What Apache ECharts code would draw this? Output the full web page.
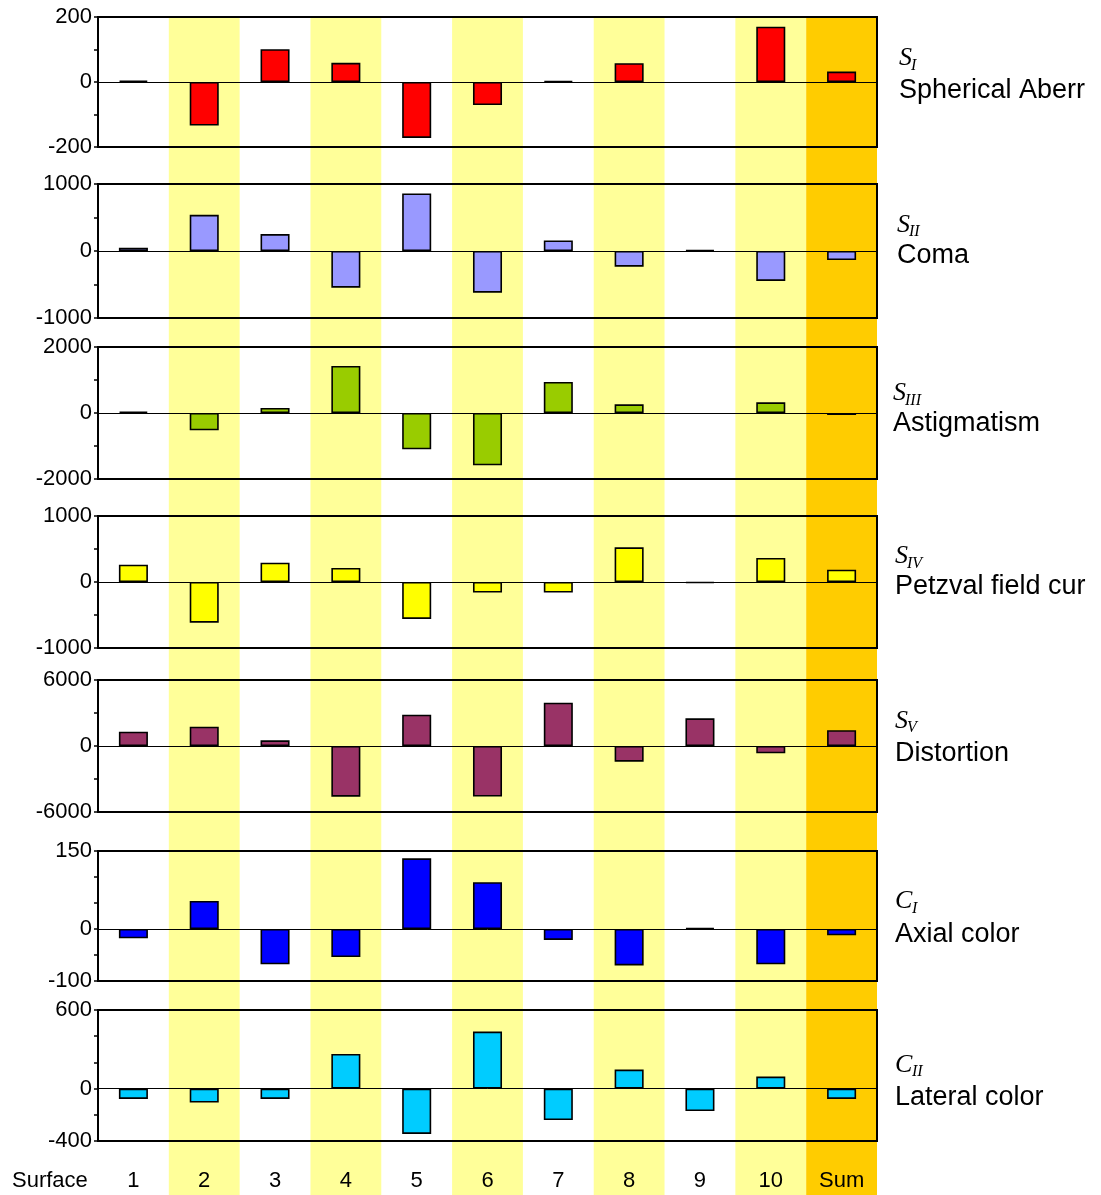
<!DOCTYPE html>
<html>
<head>
<meta charset="utf-8">
<script src="https://cdn.jsdelivr.net/npm/echarts@6/dist/echarts.min.js"></script>
<style>html,body{margin:0;padding:0;background:#fff;}#c{width:1101px;height:1195px;}</style>
</head>
<body>
<div id="c"></div>
<script>
const categories = ['1','2','3','4','5','6','7','8','9','10','Sum'];
const bandColors = [null,'#FFFF99',null,'#FFFF99',null,'#FFFF99',null,'#FFFF99',null,'#FFFF99','#FFCC00'];

const sI   = [4, -134, 101, 59, -172, -71, 3, 58, null, 170, 32];
const sII  = [50, 540, 253, -547, 860, -622, 158, -234, 15, -447, -134];
const sIII = [40, -525, 152, 1424, -1100, -1585, 940, 263, null, 323, -60];
const sIV  = [263, -616, 293, 212, -560, -160, -160, 525, -15, 364, 187];
const sV   = [1300, 1755, 515, -4605, 2850, -4600, 3940, -1425, 2520, -664, 1430];
const cI   = [-18, 54, -68, -54, 136, 90, -21, -70, 2, -68, -12];
const cII  = [-79, -107, -79, 264, -346, 435, -240, 145, -171, 92, -79];

const seriesData = [sI, sII, sIII, sIV, sV, cI, cII];
const barColors = ['#FF0000','#9999FF','#99CC00','#FFFF00','#993366','#0000FF','#00CCFF'];
const yMins = [-200, -1000, -2000, -1000, -6000, -100, -400];
const yMaxs = [200, 1000, 2000, 1000, 6000, 150, 600];
const yIntervals = [100, 500, 1000, 500, 3000, 50, 200];

const symLetters = ['S','S','S','S','S','C','C'];
const symSubs = ['I','II','III','IV','V','I','II'];
const descriptions = ['Spherical Aberr','Coma','Astigmatism','Petzval field cur','Distortion','Axial color','Lateral color'];
const xAxisName = 'Surface';

// layout (positions only)
const tops = [17, 184, 347, 516, 680, 851, 1010];
const heights = [130, 134, 132, 132, 132, 130, 131];
const labelX = [899, 897, 893, 895, 895, 895, 895];
const symY = [58.5, 225, 393.5, 556.5, 721, 901.5, 1065];
const descY = [91.5, 256, 424, 587.5, 754, 935.5, 1098.5];

const SANS = '"Liberation Sans", Arial, sans-serif';
const SERIF = '"Liberation Serif", "Times New Roman", serif';

const grid = [], xAxis = [], yAxis = [], series = [];
seriesData.forEach((d, i) => {
  grid.push({left: 98, right: 224, top: tops[i], height: heights[i], show: true,
    borderColor: '#000', borderWidth: 2, backgroundColor: 'transparent'});
  xAxis.push({gridIndex: i, type: 'category', data: categories,
    axisLine: {show: true, onZero: true, lineStyle: {color: '#000', width: 1}},
    axisTick: {show: false}, axisLabel: {show: false}, splitLine: {show: false}, z: 5});
  const mn = yMins[i], mx = yMaxs[i];
  yAxis.push({gridIndex: i, type: 'value', min: mn, max: mx, interval: yIntervals[i],
    axisLine: {show: true, lineStyle: {color: '#000', width: 2}},
    axisTick: {show: true, length: 4, lineStyle: {color: '#000', width: 1.5}},
    splitLine: {show: false}, z: 5,
    axisLabel: {margin: 6, fontSize: 22, color: '#000', fontFamily: SANS,
      formatter: v => (v === mn || v === mx || v === 0) ? String(v) : ''}});
  series.push({type: 'bar', xAxisIndex: i, yAxisIndex: i, data: d, barWidth: '41%',
    itemStyle: {color: barColors[i], borderColor: '#000', borderWidth: 1.6}, z: 3, silent: true});
});

// background bands
grid.push({left: 98, right: 224, top: 17, bottom: 0});
xAxis.push({gridIndex: 7, type: 'category', data: categories,
  axisLine: {show: false}, axisTick: {show: false}, splitLine: {show: false},
  axisLabel: {inside: true, margin: 3, fontSize: 22, color: '#000', fontFamily: SANS}});
yAxis.push({gridIndex: 7, type: 'value', min: 0, max: 1, show: false});
series.push({type: 'bar', xAxisIndex: 7, yAxisIndex: 7, barWidth: '100%', z: -1, silent: true,
  data: bandColors.map(c => c ? {value: 1, itemStyle: {color: c}} : '-')});

const graphic = [];
descriptions.forEach((t, i) => {
  const isC = symLetters[i] === 'C';
  graphic.push({type: 'text', left: labelX[i], top: symY[i] - 13, z: 10,
    style: {text: symLetters[i], font: 'italic 26px ' + SERIF, fill: '#000'}});
  graphic.push({type: 'text', left: labelX[i] + (isC ? 17 : 12), top: symY[i] + 7 - 8, z: 10,
    style: {text: symSubs[i], font: 'italic 16px ' + SERIF, fill: '#000'}});
  graphic.push({type: 'text', left: labelX[i], top: descY[i] - 14, z: 10,
    style: {text: t, font: '27px ' + SANS, fill: '#000'}});
});
graphic.push({type: 'text', left: 12, top: 1181 - 11, z: 10,
  style: {text: xAxisName, font: '22px ' + SANS, fill: '#000'}});

const chart = echarts.init(document.getElementById('c'), null, {renderer: 'canvas'});
chart.setOption({backgroundColor: '#fff', animation: false, grid, xAxis, yAxis, series, graphic});
</script>
</body>
</html>
